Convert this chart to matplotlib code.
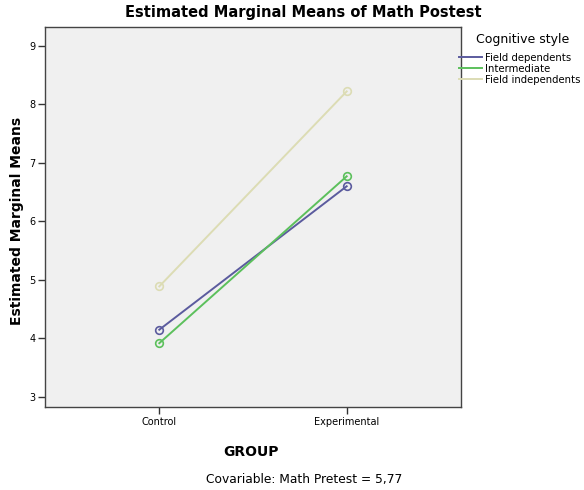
import matplotlib
matplotlib.use("Agg")
import matplotlib.pyplot as plt

groups = ["Control", "Experimental"]
series_names = ["Field dependents", "Intermediate", "Field independents"]
field_dependents = [4.15, 6.60]
intermediate = [3.92, 6.77]
field_independents = [4.89, 8.22]
yticks = [3, 4, 5, 6, 7, 8, 9]

colors = ["#5b5b9e", "#5cc05c", "#dcdcb4"]

plt.rcParams['font.family'] = ['DejaVu Sans']
fig = plt.figure(figsize=(5.84, 4.90), dpi=100)
fig.patch.set_facecolor("white")
ax = fig.add_axes([45/584, 1-407/490, (461-45)/584, (407-27)/490])
ax.set_facecolor("#f0f0f0")

x = list(range(len(groups)))
for vals, name, c in zip([field_dependents, intermediate, field_independents], series_names, colors):
    ax.plot(x, vals, color=c, lw=1.4, marker="o", ms=5.5, mfc="none", mec=c, mew=1.2, label=name)

ax.set_xlim(-0.61, 1.61)
ax.set_ylim(2.83, 9.32)
ax.set_xticks(x)
ax.set_xticklabels(groups, fontsize=7)
ax.set_yticks(yticks)
ax.set_yticklabels([str(t) for t in yticks], fontsize=7)
ax.tick_params(length=5, width=1, color="#333333", pad=2)
for s in ax.spines.values():
    s.set_color("#444444")
    s.set_linewidth(1)

fig.text(17/584, 1-221/490, "Estimated Marginal Means", fontsize=10, fontweight="bold",
         rotation=90, ha="center", va="center")
fig.text(251/584, 1-452/490, "GROUP", fontsize=10, fontweight="bold", ha="center", va="center")
fig.text(304/584, 1-479/490, "Covariable: Math Pretest = 5,77", fontsize=8.8, ha="center", va="center")
fig.text(303/584, 1-13/490, "Estimated Marginal Means of Math Postest", fontsize=10.5, fontweight="bold", ha="center", va="center")

fig.text(476/584, 1-40/490, "Cognitive style", fontsize=9, ha="left", va="center")
leg = fig.legend(loc="upper left", bbox_to_anchor=(459/584, 1-53/490),
                 fontsize=7.3, frameon=False, handlelength=2.3, handletextpad=0.3,
                 labelspacing=0.1, borderaxespad=0, borderpad=0)
for h in leg.legend_handles:
    h.set_marker("")

fig.savefig("out.png", dpi=100)
